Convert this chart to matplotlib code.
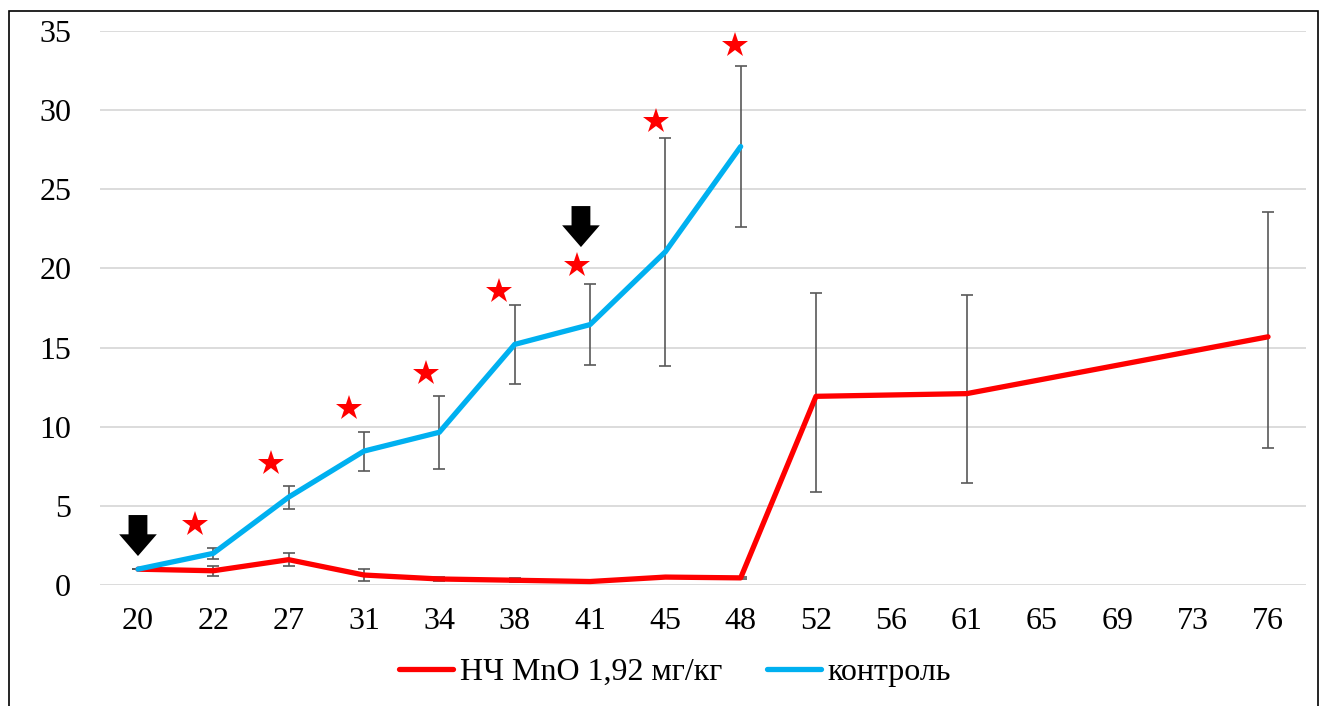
import numpy as np
import matplotlib
matplotlib.use("Agg")
import matplotlib.pyplot as plt
from matplotlib.patches import FancyArrow, Rectangle

# --- data ---
days = ["20", "22", "27", "31", "34", "38", "41", "45", "48",
        "52", "56", "61", "65", "69", "73", "76"]
nan = np.nan

mno = [1.0, 0.9, 1.6, 0.63, 0.38, 0.3, 0.22, 0.5, 0.45,
       11.92, nan, 12.09, nan, nan, nan, 15.68]
mno_err_lo = [0.0, 0.3, 0.4, 0.38, 0.12, 0.12, 0.05, 0.05, 0.05,
              6.03, nan, 5.63, nan, nan, nan, 7.05]
mno_err_hi = [0.0, 0.3, 0.4, 0.38, 0.12, 0.12, 0.05, 0.05, 0.05,
              6.54, nan, 6.26, nan, nan, nan, 7.9]

control = [1.0, 2.0, 5.55, 8.46, 9.65, 15.2, 16.45, 21.05, 27.7]
control_err = [0.0, 0.35, 0.72, 1.23, 2.3, 2.5, 2.57, 7.2, 5.1]

# significance stars (category position, value)
star_pos = [0.76, 1.77, 2.80, 3.82, 4.79, 5.83, 6.87, 7.93]
star_val = [3.85, 7.7, 11.2, 13.4, 18.6, 20.2, 29.3, 34.1]

# treatment arrows (category position, top, tip)
arrow_pos = [0.0, 5.88]
arrow_top = [4.42, 23.94]
arrow_tip = [1.83, 21.35]

RED = "#ff0000"
BLUE = "#00b0f0"
GREY = "#595959"

plt.rcParams["font.family"] = ["Liberation Serif", "DejaVu Serif"]

W, H = 1322, 706
fig = plt.figure(figsize=(W / 100, H / 100), dpi=100)
ax = fig.add_axes([100.3 / W, 1 - 585 / H, 1205.4 / W, 554 / H])

x = np.arange(len(days))
m = np.array(mno, dtype=float)
mask = ~np.isnan(m)
lo = np.array(mno_err_lo, dtype=float)
hi = np.array(mno_err_hi, dtype=float)

ax.errorbar(x[mask], m[mask], yerr=[lo[mask], hi[mask]], fmt="none",
            ecolor=GREY, elinewidth=1.2, capsize=4, capthick=1.2, zorder=2)
xc = np.arange(len(control))
ax.errorbar(xc, control, yerr=control_err, fmt="none",
            ecolor=GREY, elinewidth=1.2, capsize=4, capthick=1.2, zorder=2)

ax.plot(x[mask], m[mask], color=RED, lw=3.8, solid_capstyle="round",
        solid_joinstyle="round", zorder=3, label="НЧ MnO 1,92 мг/кг")
ax.plot(xc, control, color=BLUE, lw=3.8, solid_capstyle="round",
        solid_joinstyle="round", zorder=4, label="контроль")

ax.plot(star_pos, star_val, ls="none", marker="*", ms=19, color=RED,
        markeredgewidth=0, zorder=5)

for px, top, tip in zip(arrow_pos, arrow_top, arrow_tip):
    head = (top - tip) * 0.53
    ax.add_patch(FancyArrow(px, top, 0, tip - top, width=0.25,
                            head_width=0.5, head_length=head,
                            length_includes_head=True, color="black",
                            lw=0, zorder=6))

ax.set_xlim(-0.5, len(days) - 0.5)
ax.set_ylim(0, 35)
ax.set_yticks(np.arange(0, 36, 5))
ax.set_xticks(x)
ax.set_xticklabels(days)
ax.tick_params(axis="both", length=0, labelsize=23)
ax.tick_params(axis="y", pad=21)
ax.tick_params(axis="x", pad=16)
ax.yaxis.grid(True, color="#d9d9d9", lw=1.3)
ax.set_axisbelow(True)
for s in ax.spines.values():
    s.set_visible(False)

fig.legend(loc="center", bbox_to_anchor=(675 / W, 1 - 672 / H), ncol=2,
           frameon=False, fontsize=23, handlelength=1.7, handletextpad=0.2,
           columnspacing=1.4)

fig.patches.append(Rectangle((9 / W, -0.05), 1309 / W, 1.05 - 11 / H,
                             transform=fig.transFigure, fill=False,
                             edgecolor="black", lw=1.2))

fig.savefig("out.png", dpi=100)
